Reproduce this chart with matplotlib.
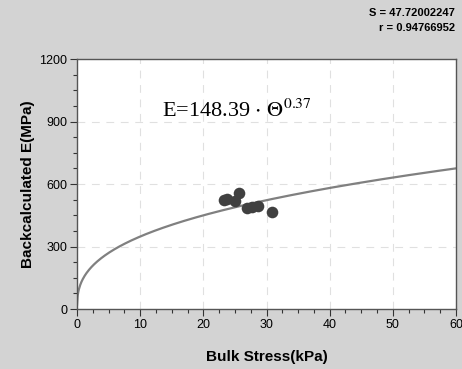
import numpy as np
import matplotlib.pyplot as plt
from matplotlib.ticker import MultipleLocator

plt.rcParams['font.family'] = ['Liberation Sans', 'DejaVu Sans']

# measured points: bulk stress (kPa) vs backcalculated modulus (MPa)
bulk_stress = [23.2, 23.7, 25.0, 25.6, 26.9, 27.7, 28.6, 30.9]
modulus = [523, 528, 520, 557, 485, 490, 494, 467]

# power-law fit E = k1 * theta^k2
k1 = 148.39
k2 = 0.37
fit_s = 47.72002247
fit_r = 0.94766952

bg = '#d3d3d3'
fig = plt.figure(figsize=(4.62, 3.69), dpi=100, facecolor=bg)
ax = fig.add_axes([0.1667, 0.1626, 0.8203, 0.6775])

theta = np.linspace(0.005, 60, 600)
ax.plot(theta, k1 * theta ** k2, color='#808080', lw=1.6, zorder=2)
ax.scatter(bulk_stress, modulus, s=70, color='#404040', zorder=3, linewidths=0)

ax.set_xlim(0, 60)
ax.set_ylim(0, 1200)
ax.xaxis.set_major_locator(MultipleLocator(10))
ax.xaxis.set_minor_locator(MultipleLocator(2.5))
ax.yaxis.set_major_locator(MultipleLocator(300))
ax.yaxis.set_minor_locator(MultipleLocator(75))
ax.tick_params(which='major', length=5, width=0.8, color='#333333', labelsize=9, pad=2)
ax.tick_params(which='minor', length=3, width=0.8, color='#333333')
ax.grid(True, which='major', ls=(0, (7, 6)), color='#e0e0e0', lw=0.8)
for sp in ax.spines.values():
    sp.set_color('#555555')
    sp.set_linewidth(1.0)

ax.set_xlabel('Bulk Stress(kPa)', fontsize=11, fontweight='bold', labelpad=14)
ax.set_ylabel('Backcalculated E(MPa)', fontsize=11, fontweight='bold', labelpad=3)

ax.text(0.225, 0.768, r'E=148.39 $\cdot$ $\Theta^{0.37}$', transform=ax.transAxes,
        fontsize=16, family='Liberation Serif', math_fontfamily='stix')

fig.text(0.985, 0.965, 'S = %.8f' % fit_s, ha='right', va='center',
         fontsize=8, fontweight='bold')
fig.text(0.985, 0.925, 'r = %.8f' % fit_r, ha='right', va='center',
         fontsize=8, fontweight='bold')

fig.savefig('out.png', dpi=100, facecolor=bg)
